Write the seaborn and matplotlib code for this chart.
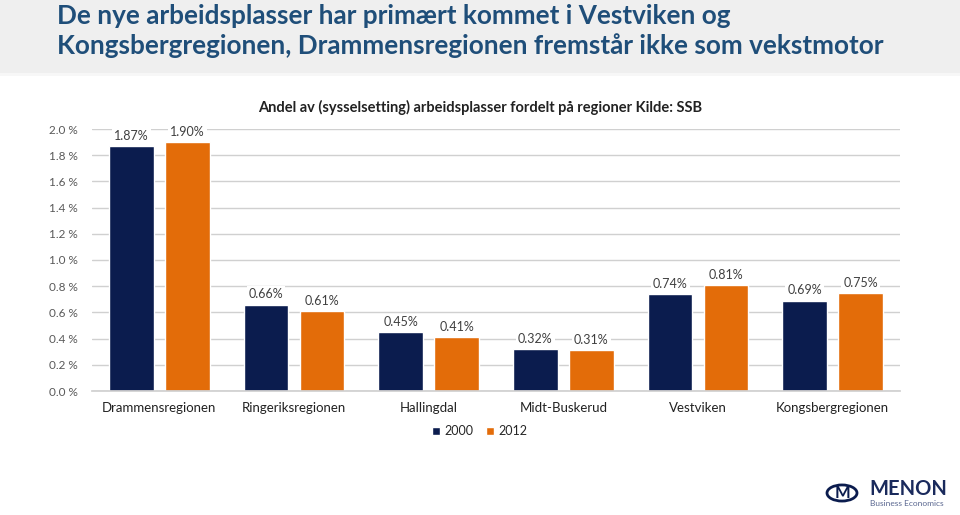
import matplotlib
matplotlib.use('Agg')
import matplotlib.pyplot as plt
from matplotlib.patches import Rectangle, Circle
import seaborn as sns
import pandas as pd

# Data
regions = ['Drammensregionen', 'Ringeriksregionen', 'Hallingdal',
           'Midt-Buskerud', 'Vestviken', 'Kongsbergregionen']
share_2000 = [1.87, 0.66, 0.45, 0.32, 0.74, 0.69]
share_2012 = [1.90, 0.61, 0.41, 0.31, 0.81, 0.75]
years = ['2000', '2012']
y_ticks = [0.0, 0.2, 0.4, 0.6, 0.8, 1.0, 1.2, 1.4, 1.6, 1.8, 2.0]

df = pd.DataFrame({
    'region': regions * 2,
    'year': [years[0]] * len(regions) + [years[1]] * len(regions),
    'share': share_2000 + share_2012,
})

navy = '#0b1c4e'
orange = '#e36c09'
title_blue = '#1f4e79'
gray_txt = '#595959'

sns.set_theme(style='white')
plt.rcParams['font.family'] = ['Lato', 'DejaVu Sans']

fig = plt.figure(figsize=(9.6, 5.15), dpi=100)

# grey title band
fig.patches.append(Rectangle((0, 1 - 73 / 515), 1, 73 / 515, transform=fig.transFigure,
                             facecolor='#efefef', edgecolor='none', zorder=0))
fig.patches.append(Rectangle((0, 1 - 76 / 515), 1, 3 / 515, transform=fig.transFigure,
                             facecolor='#f7f7f7', edgecolor='none', zorder=0))
fig.text(57 / 960, 1 - 16 / 515, 'De nye arbeidsplasser har primært kommet i Vestviken og',
         fontsize=18.8, fontweight='bold', color=title_blue, va='center', ha='left')
fig.text(57 / 960, 1 - 46 / 515, 'Kongsbergregionen, Drammensregionen fremstår ikke som vekstmotor',
         fontsize=18.8, fontweight='bold', color=title_blue, va='center', ha='left')

ax = fig.add_axes([92 / 960, 1 - 391 / 515, 808 / 960, 262 / 515])
sns.barplot(data=df, x='region', y='share', hue='year', order=regions, hue_order=years,
            palette=[navy, orange], width=0.83, gap=0.2, saturation=1, ax=ax, legend=True)

ax.set_ylim(0, 2.0)
ax.set_xlim(-0.5, len(regions) - 0.5)
ax.set_yticks(y_ticks)
ax.set_yticklabels([f'{v:.1f} %' for v in y_ticks], fontsize=8.5, color=gray_txt)
ax.tick_params(axis='y', length=0, pad=10)
ax.tick_params(axis='x', length=0, pad=8, labelsize=9.5, labelcolor='#222222')
ax.set_xlabel('')
ax.set_ylabel('')
ax.yaxis.grid(True, color='#d0d0d0', linewidth=1)
ax.set_axisbelow(True)
for s in ['top', 'right', 'left']:
    ax.spines[s].set_visible(False)
ax.spines['bottom'].set_color('#d0d0d0')

# value labels on top of bars
for cont in ax.containers:
    for b in cont:
        ax.annotate(f'{b.get_height():.2f}%', (b.get_x() + b.get_width() / 2, b.get_height()),
                    xytext=(0, 3), textcoords='offset points', ha='center', va='bottom',
                    fontsize=9, color='#404040',
                    bbox=dict(facecolor='white', edgecolor='none', pad=1.5))

fig.text(480 / 960, 1 - 107 / 515,
         'Andel av (sysselsetting) arbeidsplasser fordelt på regioner Kilde: SSB',
         fontsize=10.5, fontweight='bold', color='#222222', ha='center', va='center')

leg = ax.legend(loc='center', bbox_to_anchor=(480 / 960, 1 - 431 / 515),
                bbox_transform=fig.transFigure, ncol=2, frameon=False, fontsize=9,
                handlelength=0.6, handleheight=0.6, handletextpad=0.4, columnspacing=1.0)

# logo
fig.patches.append(Circle((842 / 960, 1 - 493 / 515), 15 / 960, transform=fig.transFigure,
                          facecolor='white', edgecolor=navy, linewidth=2))
fig.text(842 / 960, 1 - 493 / 515, 'M', fontsize=12, fontweight='bold', color=navy,
         ha='center', va='center')
fig.text(869 / 960, 1 - 489 / 515, 'MENON', fontsize=14.5, fontweight='bold', color='#1a2a5c',
         ha='left', va='center')
fig.text(870 / 960, 1 - 504 / 515, 'Business Economics', fontsize=6, color='#5a6790',
         ha='left', va='center')

fig.savefig('out.png', dpi=100)
